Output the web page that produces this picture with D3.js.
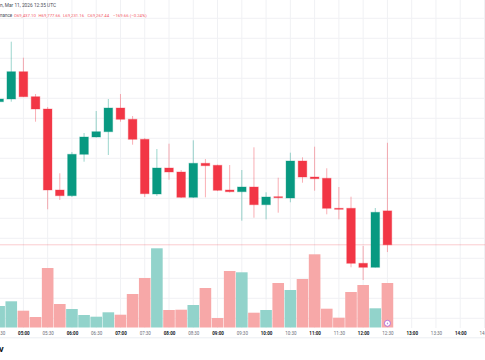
<!DOCTYPE html>
<html><head><meta charset="utf-8">
<script src="https://cdn.jsdelivr.net/npm/d3@7"></script>
<style>html,body{margin:0;padding:0;background:#fff;overflow:hidden}svg{display:block}</style>
</head><body><svg id="c" width="485" height="360"></svg>
<script>
const times = ["04:30","04:45","05:00","05:15","05:30","05:45","06:00","06:15","06:30","06:45","07:00","07:15","07:30","07:45","08:00","08:15","08:30","08:45","09:00","09:15","09:30","09:45","10:00","10:15","10:30","10:45","11:00","11:15","11:30","11:45","12:00","12:15","12:30"];
const opens  = [69983,69996.5,70133,70008,69946.5,69541.5,69513,69720,69806.5,69833,69951.5,69895,69795,69521.5,69651.5,69631.5,69505,69675,69665,69541.5,69533,69556.5,69468,69508,69501.5,69686.5,69606.5,69600,69450,69450,69175,69155,69437.1];
const highs  = [70004,70283,70203,70021.5,69956.5,69625,69731.5,69826.5,69936.5,69996.5,70021.5,69911.5,69801.5,69746.5,69773,69641.5,69790,69696.5,69668,69666.5,69641.5,69755,69530,69603,69728,69705,69758,69650,69556.5,69508,69261.5,69451.5,69777.66];
const lows   = [69976.5,69983,70006.5,69883,69445,69491.5,69506.5,69683,69804,69716.5,69883,69768,69506.5,69511.5,69593,69501.5,69501.5,69505,69536,69529,69388,69403,69395,69428,69480,69578,69538,69420,69395,69155,69091.5,69154,69231.16];
const closes = [69996.5,70133,70008,69946.5,69541.5,69513,69720,69806.5,69833,69951.5,69895,69795,69523,69651.5,69631.5,69505,69675,69663,69540,69533,69556.5,69468,69506.5,69503,69686.5,69606.5,69598,69450,69449,69175,69155,69430,69267.44];
const volumes = [215,262,168,105,595,235,185,125,108,152,128,335,495,792,175,178,225,395,95,565,552,148,175,445,375,485,732,188,98,355,425,192,445];
const headerLine1 = "n, Mar 11, 2026 12:35 UTC";
const headerSource = "nance";
const headerValues = ["O69,437.10","H69,777.66","L69,231.16","C69,267.44","\u2212169.66 (\u22120.24%)"];
const lastPrice = 69267.44;

const UP = "#089981", DOWN = "#f23645";
const VUP = "#92d3cb", VDOWN = "#f7a8a8";
const day = "2026-03-11T";
const parse = s => new Date(day + s + ":00Z");
const data = times.map((t,i)=>({t:parse(t),o:opens[i],h:highs[i],l:lows[i],c:closes[i],v:volumes[i]}));

const svg = d3.select("#c");
const x = d3.scaleUtc().domain([parse("04:30"), parse("14:30")]).range([-0.87, 484.5]);
const y = d3.scaleLinear().domain([68800, 70400]).range([338.3, 18.3]);
const yv = d3.scaleLinear().domain([0, 800]).range([327.5, 247.5]);

// grid
const g = svg.append("g");
g.selectAll("line.h").data(y.ticks(16).filter(v=>y(v)<330 && y(v)>10)).join("line")
  .attr("x1",0).attr("x2",485).attr("y1",d=>y(d)).attr("y2",d=>y(d))
  .attr("stroke","#f0f1f4").attr("stroke-width",1);
const tickTimes = d3.utcMinute.every(30).range(parse("04:30"), parse("15:00"));
g.selectAll("line.v").data(tickTimes).join("line")
  .attr("x1",d=>x(d)).attr("x2",d=>x(d)).attr("y1",0).attr("y2",328)
  .attr("stroke","#f0f1f4").attr("stroke-width",1);

// volume
const vw = 11.6;
svg.append("g").selectAll("rect").data(data).join("rect")
  .attr("x",d=>x(d.t)-vw/2).attr("width",vw)
  .attr("y",d=>yv(d.v)).attr("height",d=>yv(0)-yv(d.v))
  .attr("fill",d=>d.c>=d.o?VUP:VDOWN);

// price line
svg.append("line").attr("x1",0).attr("x2",485).attr("y1",y(lastPrice)).attr("y2",y(lastPrice))
  .attr("stroke",DOWN).attr("stroke-opacity",0.25).attr("stroke-width",1);

// candles
const cg = svg.append("g");
cg.selectAll("line").data(data).join("line")
  .attr("x1",d=>x(d.t)).attr("x2",d=>x(d.t)).attr("y1",d=>y(d.h)).attr("y2",d=>y(d.l))
  .attr("stroke",d=>d.c>=d.o?UP:DOWN).attr("stroke-opacity",0.4).attr("stroke-width",1);
const bw = 8.6;
cg.selectAll("rect").data(data).join("rect")
  .attr("x",d=>x(d.t)-bw/2).attr("width",bw)
  .attr("y",d=>y(Math.max(d.o,d.c)))
  .attr("height",d=>Math.max(1,Math.abs(y(d.o)-y(d.c))))
  .attr("fill",d=>d.c>=d.o?UP:DOWN)
  .attr("stroke",d=>d.c>=d.o?UP:DOWN).attr("stroke-opacity",0.35).attr("stroke-width",1);

// time axis
const ax = d3.axisBottom(x).tickValues(tickTimes).tickFormat(d3.utcFormat("%H:%M")).tickSize(0).tickPadding(0);
const axg = svg.append("g").attr("transform","translate(0,331.3)").call(ax);
axg.select(".domain").remove();
axg.selectAll("text").attr("font-family","Roboto, sans-serif").attr("font-size",4.5)
  .attr("fill",d=>d.getUTCMinutes()===0?"#131722":"#6a6d78")
  .attr("font-weight",d=>d.getUTCMinutes()===0?700:400);
svg.append("line").attr("x1",0).attr("x2",485).attr("y1",337.8).attr("y2",337.8)
  .attr("stroke","#eceef2").attr("stroke-width",1);

// marker
const last = data[data.length-1];
const mk = svg.append("g").attr("transform",`translate(${x(last.t)},323.3)`);
mk.append("circle").attr("r",3).attr("fill","#fff").attr("stroke","#a65bd6").attr("stroke-width",0.8);
mk.append("path").attr("d","M0.6,-1.8 L-0.9,0.3 L0.2,0.3 L-0.5,1.9 L1,-0.3 L-0.1,-0.3 Z").attr("fill","#a65bd6");

// header
svg.append("text").attr("x",0).attr("y",7.4).attr("font-family","Roboto, sans-serif").attr("font-size",4.8)
  .attr("fill","#4a4d57").text(headerLine1);
svg.append("text").attr("x",0).attr("y",16.9).attr("font-family","Roboto, sans-serif").attr("font-size",4.5)
  .attr("fill","#4a4d57").text(headerSource);
const hx = [14, 38.5, 63, 87.5, 113];
svg.append("g").selectAll("text").data(headerValues).join("text")
  .attr("x",(d,i)=>hx[i]).attr("y",16.9).attr("font-family","Roboto, sans-serif").attr("font-size",4.3)
  .attr("fill","#f25b68").text(d=>d);

// logo fragment
svg.append("text").attr("x",-1).attr("y",352).attr("font-family","Roboto, sans-serif").attr("font-size",7)
  .attr("font-weight",900).attr("fill","#131722").text("V");
</script></body></html>
